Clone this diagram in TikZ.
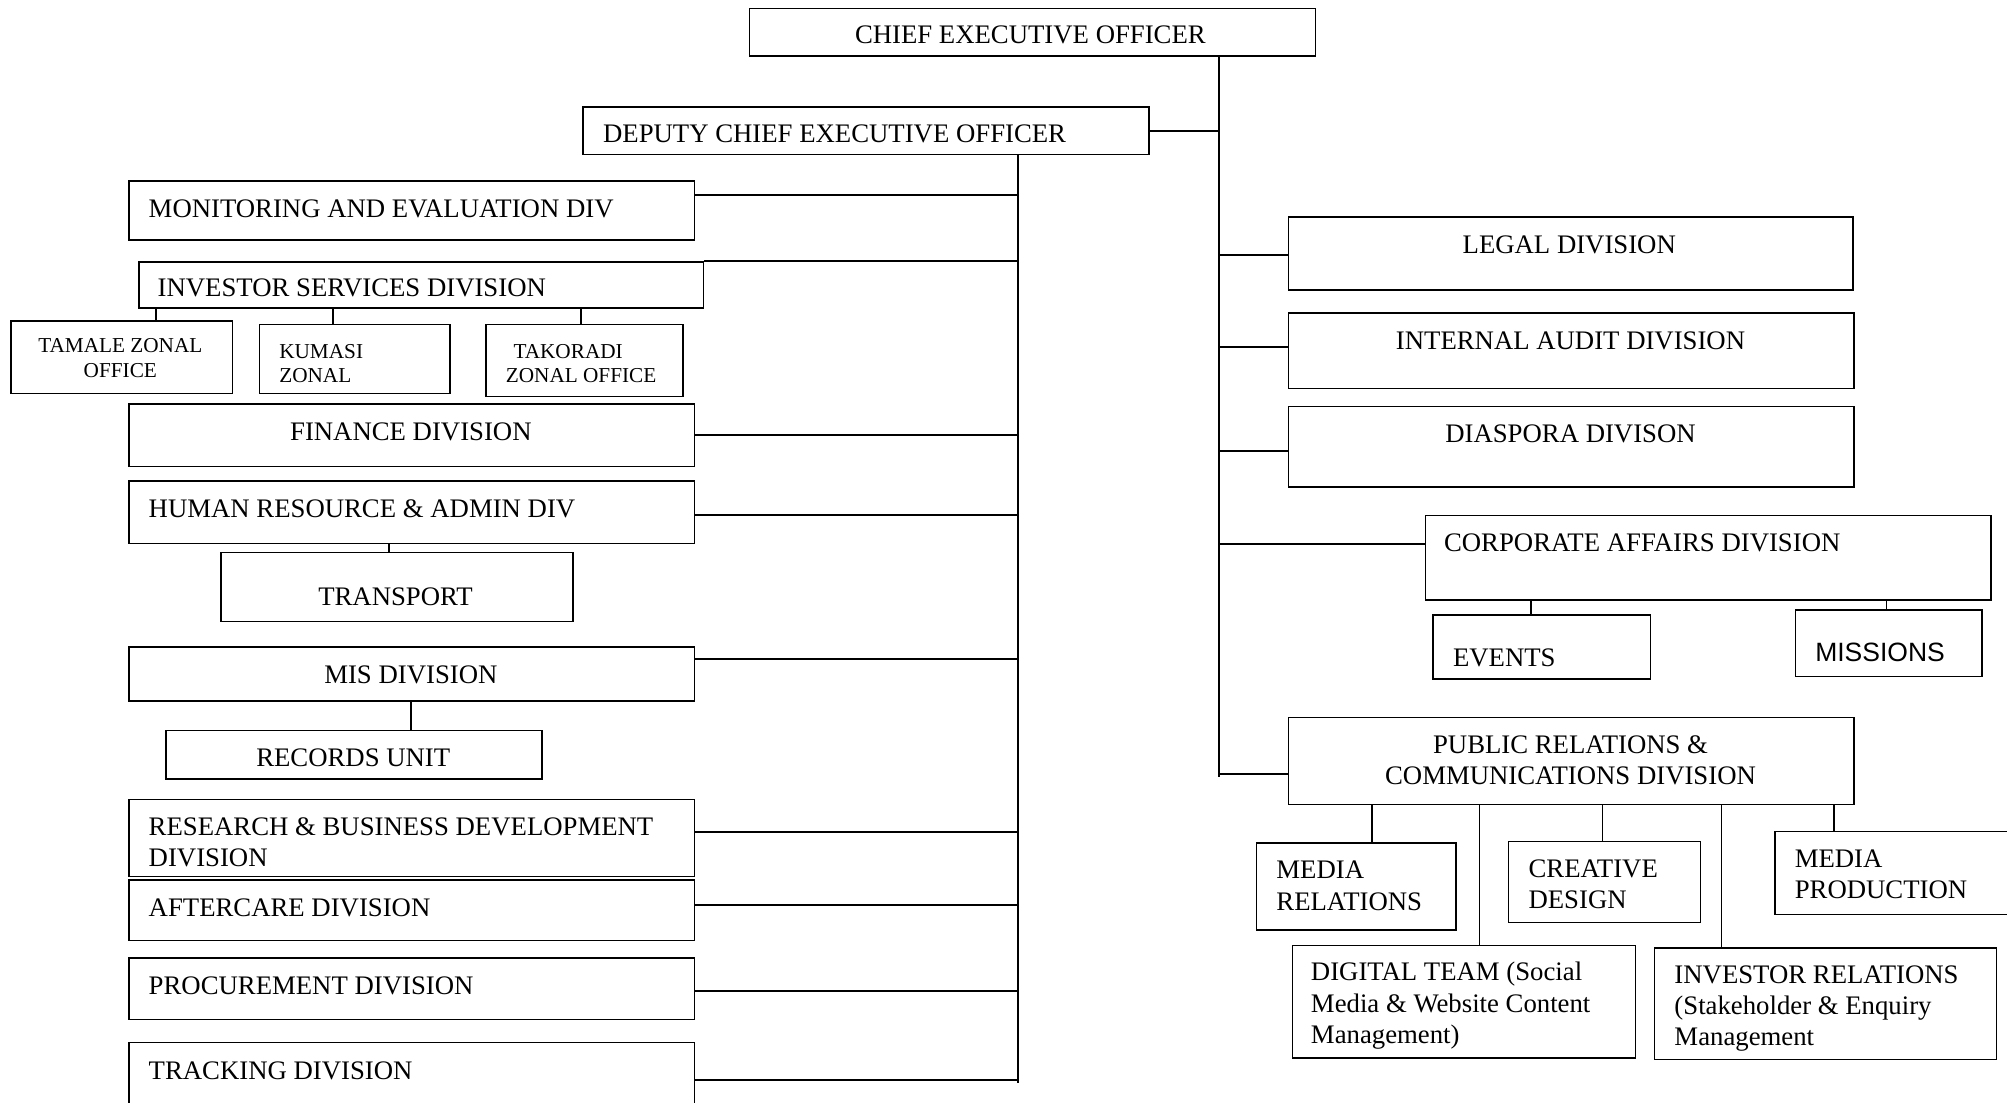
\documentclass[tikz,border=0pt]{standalone}
\usepackage{fontspec}
\setmainfont{Liberation Serif}
\newfontfamily\arialf{Liberation Sans}
\tikzset{
  box/.style={draw=black, line width=1.2pt, rectangle, inner sep=0pt, anchor=north west},
  conn/.style={line width=1.5pt},
  sub/.style={line width=1.2pt},
  lbl/.style={inner sep=0pt, font=\fontsize{20.9}{24.3}\selectfont},
  lblL/.style={lbl, anchor=base west, align=left},
  lblC/.style={lbl, anchor=base, align=center},
  small/.style={font=\fontsize{16.6}{19.3}\selectfont}
}
\newcommand\mkbox[5]{\node[box, minimum width={(#4-#2)*1pt}, minimum height={(#5-#3)*1pt}] (#1) at (#2,#3) {};}
\begin{document}
\begin{tikzpicture}[x=1pt,y=-1pt]
\useasboundingbox (0,0) rectangle (1568,861);
\clip (0,0) rectangle (1568,861);
% boxes
\mkbox{ceo}{585}{6}{1027}{43}
\mkbox{dceo}{455}{83}{897}{120}
\mkbox{me}{100}{141}{542}{187}
\mkbox{isd}{108}{204}{549}{240}
\mkbox{tam}{8}{250}{181}{307}
\mkbox{kum}{202}{253}{351}{307}
\mkbox{tak}{379}{253}{533}{309}
\mkbox{fin}{100}{315}{542}{364}
\mkbox{hr}{100}{375}{542}{424}
\mkbox{tra}{172}{431}{447}{485}
\mkbox{mis}{100}{505}{542}{547}
\mkbox{rec}{129}{570}{423}{608}
\mkbox{rbd}{100}{624}{542}{684}
\mkbox{aft}{100}{687}{542}{734}
\mkbox{pro}{100}{748}{542}{796}
\mkbox{trk}{100}{814}{542}{880}
\mkbox{leg}{1006}{169}{1447}{226}
\mkbox{ia}{1006}{244}{1448}{303}
\mkbox{dia}{1006}{317}{1448}{380}
\mkbox{ca}{1113}{402}{1555}{468}
\mkbox{ev}{1119}{480}{1289}{530}
\mkbox{mss}{1402}{476}{1548}{528}
\mkbox{pr}{1006}{560}{1448}{628}
\mkbox{mr}{981}{658}{1137}{726}
\mkbox{cd}{1178}{657}{1328}{720}
\mkbox{mp}{1386}{649}{1600}{714}
\mkbox{dt}{1009}{738}{1277}{826}
\mkbox{ir}{1292}{740}{1559}{827}
% labels (multi-line labels are anchored at the baseline of their last line)
\node[lblC] (ceo-t) at (805,34) {CHIEF EXECUTIVE OFFICER};
\node[lblL] (dceo-t) at (471,111) {DEPUTY CHIEF EXECUTIVE OFFICER};
\node[lblL] (me-t) at (116,170) {MONITORING AND EVALUATION DIV};
\node[lblL] (isd-t) at (123,232) {INVESTOR SERVICES DIVISION};
\node[lblC,small] (tam-t) at (94,295) {TAMALE ZONAL\\OFFICE};
\node[lblL,small] (kum-t) at (218,299) {KUMASI\\ZONAL};
\node[lblL,small] (tak-t) at (395,299) {\hspace{6pt}TAKORADI\\ZONAL OFFICE};
\node[lblC] (fin-t) at (321,344) {FINANCE DIVISION};
\node[lblL] (hr-t) at (116,404) {HUMAN RESOURCE \& ADMIN DIV};
\node[lblC] (tra-t) at (309,473) {TRANSPORT};
\node[lblC] (mis-t) at (321,534) {MIS DIVISION};
\node[lblC] (rec-t) at (276,599) {RECORDS UNIT};
\node[lblL] (rbd-t) at (116,677) {RESEARCH \& BUSINESS DEVELOPMENT\\DIVISION};
\node[lblL] (aft-t) at (116,716) {AFTERCARE DIVISION};
\node[lblL] (pro-t) at (116,777) {PROCUREMENT DIVISION};
\node[lblL] (trk-t) at (116,843) {TRACKING DIVISION};
\node[lblC] (leg-t) at (1226,198) {LEGAL DIVISION};
\node[lblC] (ia-t) at (1227,273) {INTERNAL AUDIT DIVISION};
\node[lblC] (dia-t) at (1227,346) {DIASPORA DIVISON};
\node[lblL] (ca-t) at (1128,431) {CORPORATE AFFAIRS DIVISION};
\node[lblL] (ev-t) at (1135,521) {EVENTS};
\node[lblL,font=\arialf\fontsize{20.7}{24.3}\selectfont] (mss-t) at (1418,517) {MISSIONS};
\node[lblC] (pr-t) at (1227,613) {PUBLIC RELATIONS \&\\COMMUNICATIONS DIVISION};
\node[lblL] (mr-t) at (997,711) {MEDIA\\RELATIONS};
\node[lblL] (cd-t) at (1194,710) {CREATIVE\\DESIGN};
\node[lblL] (mp-t) at (1402,702) {MEDIA\\PRODUCTION};
\node[lblL] (dt-t) at (1024,815) {DIGITAL TEAM (Social\\Media \& Website Content\\Management)};
\node[lblL] (ir-t) at (1308,817) {INVESTOR RELATIONS\\(Stakeholder \& Enquiry\\Management};
% trunks
\coordinate (rx) at (952,0);
\coordinate (rbot) at (952,607);
\coordinate (lbot) at (795,846);
\draw[conn] (ceo.south -| rx) -- (rbot);
\draw[conn] (dceo.east) -- (dceo.east -| rx);
\draw[conn] (dceo.south -| lbot) -- (lbot);
\foreach \nm/\yy in {me/152, isd/204, fin/340, hr/402, mis/515, rbd/650, aft/707, pro/774, trk/844} {
  \coordinate (j) at (0,\yy);
  \draw[conn] (\nm.east |- j) -- (lbot |- j);
}
\foreach \nm/\yy in {leg/199, ia/271, dia/352, ca/425, pr/605} {
  \coordinate (j) at (0,\yy);
  \draw[conn] (rx |- j) -- (\nm.west |- j);
}
\foreach \pa/\ch/\xx in {isd/tam/122, isd/kum/260, isd/tak/454, hr/tra/304, mis/rec/321, ca/ev/1196, ca/mss/1474, pr/mr/1072, pr/dt/1156, pr/cd/1252, pr/ir/1345, pr/mp/1433} {
  \coordinate (j) at (\xx,0);
  \draw[sub] (\pa.south -| j) -- (\ch.north -| j);
}
\end{tikzpicture}
\end{document}
